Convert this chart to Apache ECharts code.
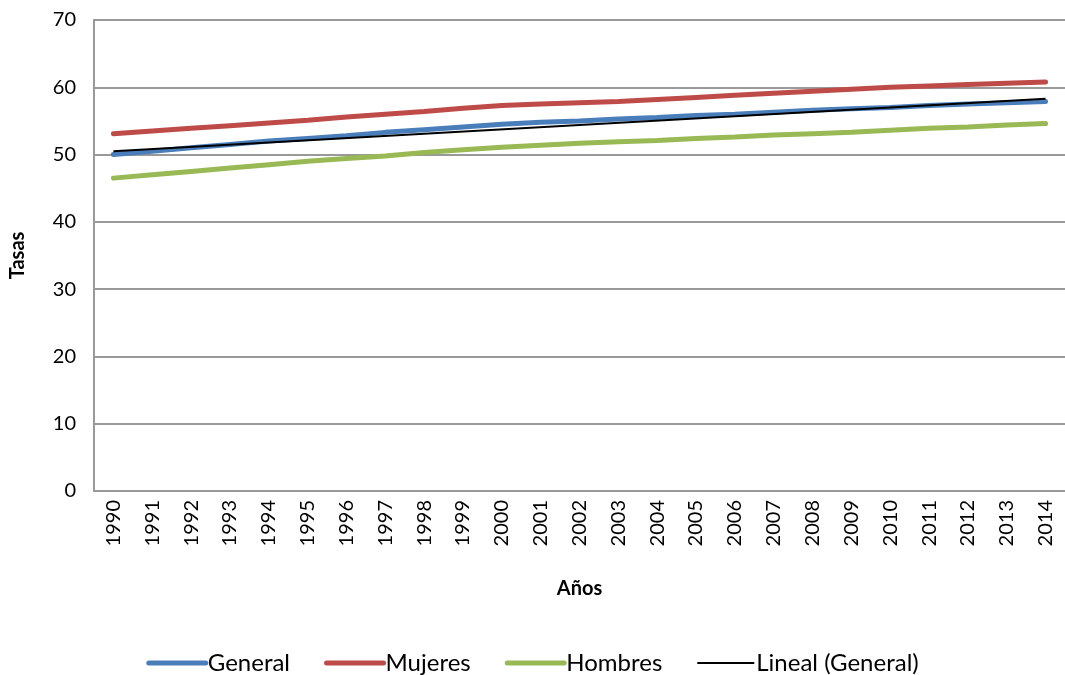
<!DOCTYPE html>
<html>
<head>
<meta charset="utf-8">
<script src="https://cdn.jsdelivr.net/npm/echarts@6/dist/echarts.min.js"></script>
<style>
  html, body { margin: 0; padding: 0; background: #fff; }
  #main { width: 1065px; height: 675px; }
</style>
</head>
<body>
<div id="main"></div>
<script>
// años
var years = ['1990','1991','1992','1993','1994','1995','1996','1997','1998','1999','2000','2001','2002',
             '2003','2004','2005','2006','2007','2008','2009','2010','2011','2012','2013','2014'];

// tasas
var general = [50.0, 50.5, 51.0, 51.5, 52.0, 52.4, 52.8, 53.3, 53.7, 54.1, 54.5, 54.8, 55.0,
               55.3, 55.5, 55.8, 56.0, 56.3, 56.6, 56.8, 57.0, 57.3, 57.5, 57.7, 57.9];
var mujeres = [53.1, 53.5, 53.9, 54.3, 54.7, 55.1, 55.6, 56.0, 56.4, 56.9, 57.3, 57.5, 57.7,
               57.9, 58.2, 58.5, 58.8, 59.1, 59.4, 59.7, 60.0, 60.2, 60.4, 60.6, 60.8];
var hombres = [46.5, 47.0, 47.5, 48.0, 48.5, 49.0, 49.4, 49.8, 50.3, 50.7, 51.1, 51.4, 51.7,
               51.9, 52.1, 52.4, 52.6, 52.9, 53.1, 53.3, 53.6, 53.9, 54.1, 54.4, 54.6];
// tendencia lineal: solo los extremos
var linealInicio = 50.5;
var linealFin = 58.3;

var yTicks = { min: 0, max: 70, interval: 10 };

var lineal = years.map(function (y, i) {
  if (i == 0) return linealInicio;
  if (i == years.length - 1) return linealFin;
  return null;
});

var fuente = 'Lato, "Open Sans", sans-serif';
var myChart = echarts.init(document.getElementById('main'));

var option = {
  animation: false,
  textStyle: { fontFamily: fuente },
  grid: { left: 93, top: 20, width: 977, bottom: 184, containLabel: false },
  legend: {
    left: 'center',
    top: 646,
    itemWidth: 57,
    itemHeight: 14,
    itemGap: 34,
    itemStyle: { opacity: 0 },
    textStyle: { fontSize: 24, color: '#000', fontFamily: fuente, padding: [0, 0, 0, -3] },
    data: [
      { name: 'General', lineStyle: { width: 5, cap: 'round' } },
      { name: 'Mujeres', lineStyle: { width: 5, cap: 'round' } },
      { name: 'Hombres', lineStyle: { width: 5, cap: 'round' } },
      { name: 'Lineal (General)', lineStyle: { width: 2 } }
    ]
  },
  xAxis: {
    type: 'category',
    data: years,
    boundaryGap: true,
    name: 'Años',
    nameLocation: 'middle',
    nameGap: 88,
    nameTextStyle: { fontSize: 20, fontWeight: 'bold', color: '#000', fontFamily: fuente },
    axisLine: { lineStyle: { color: '#999', width: 2 } },
    axisTick: { show: false },
    axisLabel: { rotate: 90, fontSize: 20, color: '#000', margin: 9, interval: 0 }
  },
  yAxis: {
    type: 'value',
    min: yTicks.min,
    max: yTicks.max,
    interval: yTicks.interval,
    name: 'Tasas',
    nameLocation: 'middle',
    nameGap: 66,
    nameTextStyle: { fontSize: 20, fontWeight: 'bold', color: '#000', fontFamily: fuente },
    axisLine: { show: true, lineStyle: { color: '#999', width: 2 } },
    axisTick: { show: false },
    axisLabel: { fontSize: 20, color: '#000', margin: 18 },
    splitLine: { lineStyle: { color: '#999', width: 2 } }
  },
  series: [
    {
      name: 'General', type: 'line', data: general, symbol: 'none',
      color: '#4a7ebb', lineStyle: { width: 5, color: '#4a7ebb', cap: 'round' }, z: 3
    },
    {
      name: 'Mujeres', type: 'line', data: mujeres, symbol: 'none',
      color: '#be4b48', lineStyle: { width: 5, color: '#be4b48', cap: 'round' }, z: 3
    },
    {
      name: 'Hombres', type: 'line', data: hombres, symbol: 'none',
      color: '#98b954', lineStyle: { width: 5, color: '#98b954', cap: 'round' }, z: 3
    },
    {
      name: 'Lineal (General)', type: 'line', data: lineal, symbol: 'none', connectNulls: true,
      color: '#000', lineStyle: { width: 2, color: '#000' }, z: 4
    }
  ]
};
myChart.setOption(option);
</script>
</body>
</html>
